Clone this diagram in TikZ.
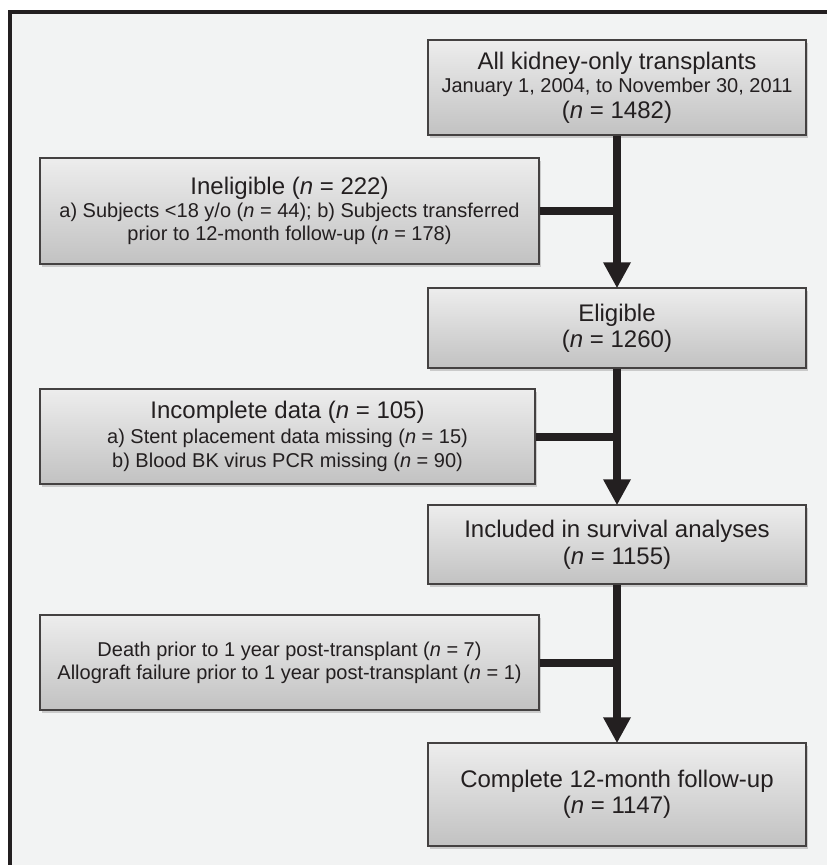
\documentclass[tikz,border=0pt]{standalone}
\usepackage{fontspec}
\setmainfont{Liberation Sans}
\usepackage{tikz}
\usetikzlibrary{arrows.meta,shadows}
\definecolor{ink}{HTML}{231F20}
\definecolor{paper}{HTML}{F2F3F3}
\newcommand{\BoxFont}[1]{\fontsize{24}{#1}\selectfont\lineskiplimit=-40pt\lineskip=0pt}
\newcommand{\SmTxt}{\fontsize{20}{23}\selectfont}
\newcommand{\nn}{\textit{n}}

\tikzset{
 flowbox/.style={draw=ink!85, line width=1.5pt, top color=black!7, bottom color=black!24,
   drop shadow={shadow xshift=2pt, shadow yshift=-3pt, opacity=0.35},
   align=center, text=ink, inner sep=0pt},
 flow/.style={draw=ink, line width=8pt},
 flowarr/.style={flow, -{Triangle[width=26pt,length=26pt]}, shorten >=-1pt}
}

\begin{document}
\begin{tikzpicture}[x=1pt,y=-1pt]
 \useasboundingbox (0,0) rectangle (827,865);
 \fill[white] (0,0) rectangle (827,865);
 \fill[paper] (10,12) rectangle (827,865);
 \draw[ink, line width=4pt] (10,865) -- (10,12) -- (827,12);

 \node[flowbox, font=\BoxFont{24}, minimum width=378pt, minimum height=95pt] (all) at (617,87.5)
   {All kidney-only transplants\\[-1pt]
    \SmTxt January 1, 2004, to November 30, 2011\\[2pt]
    (\nn{} = 1482)};
 \node[flowbox, font=\BoxFont{23}, minimum width=499pt, minimum height=106pt] (inelig) at (289.5,211)
   {Ineligible (\nn{} = 222)\\
    \SmTxt a) Subjects <18 y/o (\nn{} = 44); b) Subjects transferred\\
    \SmTxt prior to 12-month follow-up (\nn{} = 178)};
 \node[flowbox, font=\BoxFont{26}, minimum width=378pt, minimum height=80pt] (elig) at (617,328)
   {Eligible\\ (\nn{} = 1260)};
 \node[flowbox, font=\BoxFont{24}, minimum width=495pt, minimum height=95pt] (incompl) at (287.5,436.5)
   {Incomplete data (\nn{} = 105)\\[1pt]
    \SmTxt a) Stent placement data missing (\nn{} = 15)\\
    \SmTxt b) Blood BK virus PCR missing (\nn{} = 90)};
 \node[flowbox, font=\BoxFont{27}, minimum width=378pt, minimum height=79pt] (incl) at (617,544.5)
   {Included in survival analyses\\ (\nn{} = 1155)};
 \node[flowbox, font=\BoxFont{23}, minimum width=499pt, minimum height=95pt] (excl) at (289.5,662.5)
   {\SmTxt Death prior to 1 year post-transplant (\nn{} = 7)\\
    \SmTxt Allograft failure prior to 1 year post-transplant (\nn{} = 1)};
 \node[flowbox, font=\BoxFont{26}, minimum width=378pt, minimum height=103pt] (fu) at (617,794.5)
   {Complete 12-month follow-up\\ (\nn{} = 1147)};

 % main line and side branches
 \draw[flowarr] (all) -- (elig);
 \draw[flowarr] (elig) -- (incl);
 \draw[flowarr] (incl) -- (fu);
 \draw[flow] (inelig.east) -- (inelig.east -| all.south);
 \draw[flow] (incompl.east) -- (incompl.east -| elig.south);
 \draw[flow] (excl.east) -- (excl.east -| incl.south);
\end{tikzpicture}
\end{document}
